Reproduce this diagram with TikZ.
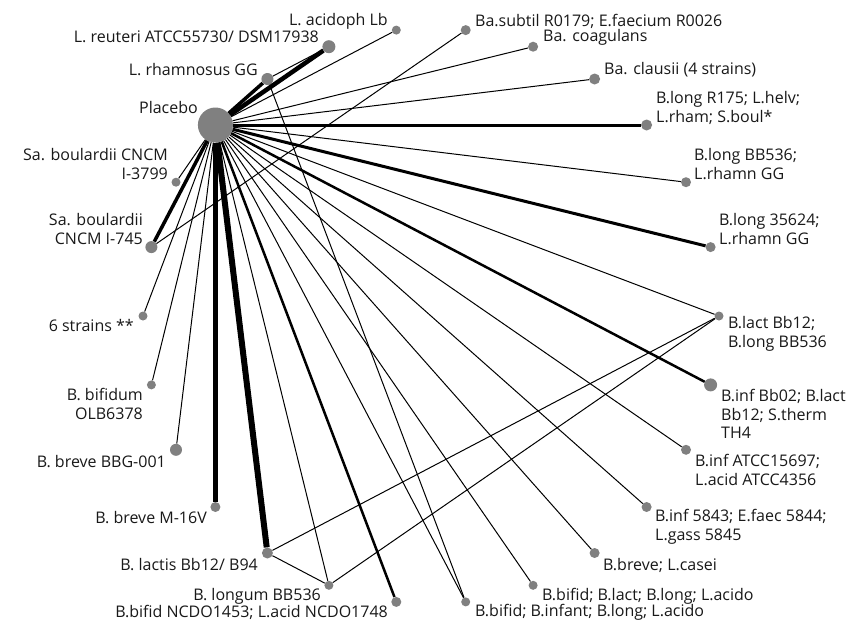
\documentclass[tikz,border=0pt]{standalone}
\usepackage{fontspec}
\setmainfont{Open Sans}
\usetikzlibrary{positioning}
\tikzset{
    dot/.style={
           circle,
           fill=gray,
           inner sep=0pt,
           minimum size=#1,
           },
    dot/.default=10pt,
}
\tikzset{
    lbl/.style={
           text=black!90,
           inner sep=0pt,
           font=\fontsize{16}{18.5}\selectfont,
           },
    lbr/.style={lbl, anchor=east, align=right},
    lbw/.style={lbl, anchor=west, align=left},
    link/.style={
           draw=black,
           line width=#1,
           },
    link/.default=1pt,
}

\begin{document}
\begin{tikzpicture}[x=1pt,y=-1pt]
\useasboundingbox[fill=white] (0,0) rectangle (861,622);
% treatments round the circle
\node[dot=35pt](placebo) at (215.4,125.0){};
\node[dot=9pt](lacidoph) at (396.3,30.1){};
\node[dot=13pt](lreuteri) at (328.9,46.7){};
\node[dot=12pt](lrhamn) at (267.4,79.0){};
\node[dot=9pt](sab3799) at (176.0,182.2){};
\node[dot=12pt](sab745) at (151.4,247.1){};
\node[dot=9pt](sixstr) at (143.0,316.0){};
\node[dot=9pt](bbifidum) at (151.4,384.9){};
\node[dot=12pt](bbrevebbg) at (176.0,449.8){};
\node[dot=10pt](bbrevem) at (215.4,507.0){};
\node[dot=11pt](blactis) at (267.4,553.0){};
\node[dot=9pt](blongum) at (328.9,585.3){};
\node[dot=10pt](bbifidncdo) at (396.3,601.9){};
\node[dot=9pt](bbifidinf) at (465.7,601.9){};
\node[dot=9pt](bbifidlact) at (533.1,585.3){};
\node[dot=10pt](bbrevecas) at (594.6,553.0){};
\node[dot=10pt](binfgass) at (646.6,507.0){};
\node[dot=10pt](binfatcc) at (686.0,449.8){};
\node[dot=13pt](binfbb) at (710.6,384.9){};
\node[dot=9pt](blactlong) at (719.0,316.0){};
\node[dot=10pt](blongrhb) at (710.6,247.1){};
\node[dot=10pt](blongrha) at (686.0,182.2){};
\node[dot=11pt](blongr) at (646.6,125.0){};
\node[dot=11pt](baclausii) at (594.6,79.0){};
\node[dot=10pt](bacoag) at (533.1,46.7){};
\node[dot=10pt](basubtil) at (465.7,30.1){};

% labels
\node[lbr](placebotxt) at (198,107){Placebo};
\node[lbr](lacidophtxt) at (388,21){L. acidoph Lb};
\node[lbr](lreuteritxt) at (319,37){L. reuteri ATCC55730/ DSM17938};
\node[lbr](lrhamntxt) at (258,70){L. rhamnosus GG};
\node[lbr](sab3799txt) at (168,164){Sa. boulardii CNCM\\I-3799};
\node[lbr](sab745txt) at (143,229){Sa. boulardii\\CNCM I-745};
\node[lbr](sixstrtxt) at (134,325){6 strains **};
\node[lbr](bbifidumtxt) at (143,404){B. bifidum\\OLB6378};
\node[lbr](bbrevebbgtxt) at (166,462){B. breve BBG-001};
\node[lbr](bbrevemtxt) at (207,518){B. breve M-16V};
\node[lbr](blactistxt) at (258,565){B. lactis Bb12/ B94};
\node[lbr](blongumtxt) at (321,596){B. longum BB536};
\node[lbr](bbifidncdotxt) at (388,612){B.bifid NCDO1453; L.acid NCDO1748};
\node[lbw](bbifidinftxt) at (475,612){B.bifid; B.infant; B.long; L.acido};
\node[lbw](bbifidlacttxt) at (542,596){B.bifid; B.lact; B.long; L.acido};
\node[lbw](bbrevecastxt) at (603,565){B.breve; L.casei};
\node[lbw](binfgasstxt) at (655,527){B.inf 5843; E.faec 5844;\\L.gass 5845};
\node[lbw](binfatcctxt) at (695,470){B.inf ATCC15697;\\L.acid ATCC4356};
\node[lbw](binfbbtxt) at (721,414){B.inf Bb02; B.lact\\Bb12; S.therm\\TH4};
\node[lbw](blactlongtxt) at (728,334){B.lact Bb12;\\B.long BB536};
\node[lbw](blongrhbtxt) at (719,229){B.long 35624;\\L.rhamn GG};
\node[lbw](blongrhatxt) at (694,164){B.long BB536;\\L.rhamn GG};
\node[lbw](blongrtxt) at (656,108){B.long R175; L.helv;\\L.rham; S.boul*};
\node[lbw](baclausiitxt) at (604,70){Ba. clausii (4 strains)};
\node[lbw](bacoagtxt) at (543,37){Ba. coagulans};
\node[lbw](basubtiltxt) at (475,21){Ba.subtil R0179; E.faecium R0026};

% comparisons
\draw[link] (placebo) -- (lacidoph);
\draw[link=4.5pt] (placebo) -- (lreuteri);
\draw[link=3.5pt] (placebo) -- (lrhamn);
\draw[link] (placebo) -- (sab3799);
\draw[link=3.5pt] (placebo) -- (sab745);
\draw[link] (placebo) -- (sixstr);
\draw[link] (placebo) -- (bbifidum);
\draw[link] (placebo) -- (bbrevebbg);
\draw[link=4.5pt] (placebo) -- (bbrevem);
\draw[link=6pt] (placebo) -- (blactis);
\draw[link] (placebo) -- (blongum);
\draw[link=2.5pt] (placebo) -- (bbifidncdo);
\draw[link] (placebo) -- (bbifidinf);
\draw[link] (placebo) -- (bbifidlact);
\draw[link] (placebo) -- (bbrevecas);
\draw[link] (placebo) -- (binfgass);
\draw[link] (placebo) -- (binfatcc);
\draw[link=2.5pt] (placebo) -- (binfbb);
\draw[link] (placebo) -- (blactlong);
\draw[link=3pt] (placebo) -- (blongrhb);
\draw[link] (placebo) -- (blongrha);
\draw[link=3pt] (placebo) -- (blongr);
\draw[link] (placebo) -- (baclausii);
\draw[link] (placebo) -- (bacoag);
\draw[link] (lrhamn) -- (lreuteri);
\draw[link] (lrhamn) -- (bbifidinf);
\draw[link] (sab745) -- (basubtil);
\draw[link] (blactis) -- (blongum);
\draw[link] (blactis) -- (blactlong);
\draw[link] (blongum) -- (blactlong);
\end{tikzpicture}
\end{document}
